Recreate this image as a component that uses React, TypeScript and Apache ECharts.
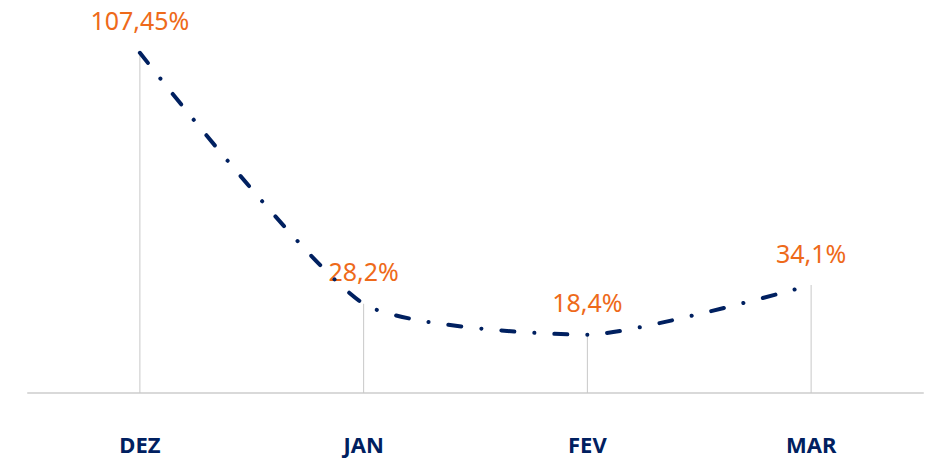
import React, { useEffect, useRef } from "react";
import * as echarts from "echarts";

const categories = ["DEZ", "JAN", "FEV", "MAR"];
const values = [107.45, 28.2, 18.4, 34.1];
const yMin = 0;
const yMax = 120;

const fmt = (v: number) => String(v).replace(".", ",") + "%";

export default function App() {
  const ref = useRef<HTMLDivElement>(null);
  useEffect(() => {
    if (!ref.current) return;
    const chart = echarts.init(ref.current, undefined, { renderer: "svg" });
    chart.setOption({
      animation: false,
      backgroundColor: "#ffffff",
      grid: { left: 28, right: 12, top: 13, bottom: 67 },
      xAxis: {
        type: "category",
        data: categories,
        boundaryGap: true,
        axisLine: { show: true, lineStyle: { color: "#d9d9d9", width: 2 } },
        axisTick: { show: false },
        axisLabel: {
          margin: 41,
          lineHeight: 20,
          color: "#002060",
          fontFamily: "Noto Sans",
          fontWeight: "bold",
          fontSize: 22,
        },
      },
      yAxis: {
        type: "value",
        min: yMin,
        max: yMax,
        show: false,
        splitLine: { show: false },
      },
      series: [
        {
          type: "bar",
          data: values,
          barWidth: 1,
          itemStyle: { color: "#c8c8c8" },
          silent: true,
          z: 1,
          label: {
            show: true,
            position: "top",
            distance: 20,
            color: "#EE6A1A",
            fontFamily: "Noto Sans",
            fontSize: 25,
            formatter: (p: any) => fmt(p.value),
          },
        },
        {
          type: "line",
          data: values,
          smooth: 0.2,
          showSymbol: false,
          symbol: "none",
          z: 3,
          lineStyle: {
            color: "#002060",
            width: 4,
            type: [13, 20, 0.1, 20],
            cap: "round",
          },
        },
      ],
    });
    return () => chart.dispose();
  }, []);
  return (
    <div
      ref={ref}
      style={{ position: "absolute", left: 0, top: 0, width: 935, height: 460 }}
    />
  );
}
